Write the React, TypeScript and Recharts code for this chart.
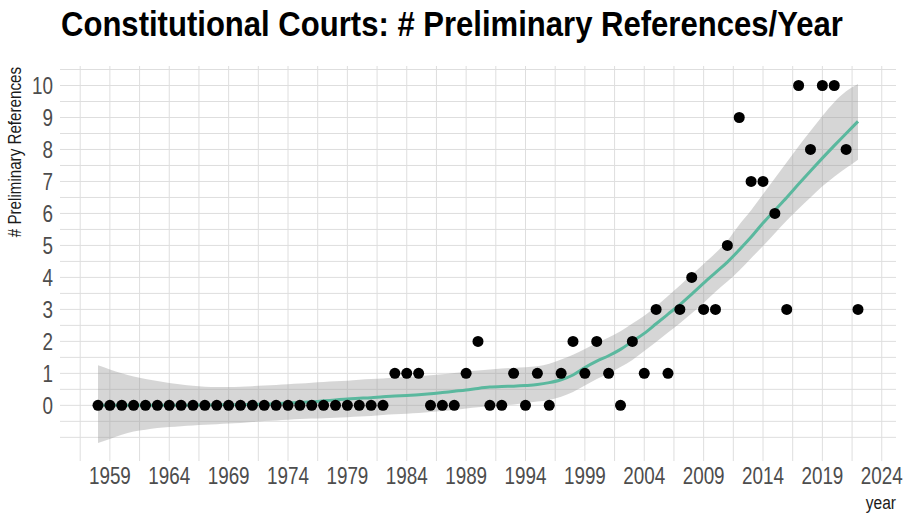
import React from 'react';
import { ComposedChart, Scatter, Area, Line, XAxis, YAxis, CartesianGrid } from 'recharts';

// one row per year
const years = [
  1958, 1959, 1960, 1961, 1962, 1963, 1964, 1965, 1966, 1967, 1968, 1969, 1970,
  1971, 1972, 1973, 1974, 1975, 1976, 1977, 1978, 1979, 1980, 1981, 1982, 1983,
  1984, 1985, 1986, 1987, 1988, 1989, 1990, 1991, 1992, 1993, 1994, 1995, 1996,
  1997, 1998, 1999, 2000, 2001, 2002, 2003, 2004, 2005, 2006, 2007, 2008, 2009,
  2010, 2011, 2012, 2013, 2014, 2015, 2016, 2017, 2018, 2019, 2020, 2021, 2022,
];

const counts = [
  0, 0, 0, 0, 0, 0, 0, 0, 0, 0, 0, 0, 0,
  0, 0, 0, 0, 0, 0, 0, 0, 0, 0, 0, 0, 1,
  1, 1, 0, 0, 0, 1, 2, 0, 0, 1, 0, 1, 0,
  1, 2, 1, 2, 1, 0, 2, 1, 3, 1, 3, 4, 3,
  3, 5, 9, 7, 7, 6, 3, 10, 8, 10, 10, 8, 3,
];

// loess fit + 95% band
const fit = [
  0.0, 0.0, 0.0, 0.0, 0.0, 0.0, 0.0, 0.0, 0.01, 0.01, 0.01, 0.02, 0.02,
  0.03, 0.04, 0.05, 0.07, 0.09, 0.11, 0.14, 0.17, 0.2, 0.22, 0.24, 0.27, 0.29,
  0.31, 0.33, 0.36, 0.4, 0.44, 0.48, 0.53, 0.57, 0.59, 0.6, 0.62, 0.65, 0.71,
  0.8, 0.95, 1.18, 1.38, 1.55, 1.75, 2.0, 2.25, 2.55, 2.85, 3.15, 3.48, 3.82,
  4.15, 4.48, 4.86, 5.26, 5.7, 6.1, 6.5, 6.92, 7.33, 7.73, 8.12, 8.5, 8.88,
];

const lower = [
  -1.18, -1.05, -0.92, -0.82, -0.76, -0.71, -0.68, -0.65, -0.63, -0.61, -0.59, -0.57, -0.55,
  -0.52, -0.49, -0.47, -0.45, -0.43, -0.41, -0.4, -0.39, -0.37, -0.35, -0.33, -0.3, -0.28,
  -0.26, -0.24, -0.21, -0.18, -0.14, -0.1, -0.06, -0.03, 0.0, 0.03, 0.07, 0.12, 0.17,
  0.27, 0.42, 0.62, 0.82, 1.0, 1.2, 1.42, 1.7, 1.98, 2.28, 2.57, 2.88, 3.2,
  3.55, 3.87, 4.22, 4.6, 4.98, 5.38, 5.78, 6.15, 6.5, 6.85, 7.15, 7.42, 7.68,
];

const upper = [
  1.25, 1.12, 1.0, 0.9, 0.82, 0.76, 0.7, 0.65, 0.61, 0.58, 0.57, 0.57, 0.58,
  0.6, 0.62, 0.64, 0.66, 0.68, 0.71, 0.73, 0.75, 0.77, 0.8, 0.82, 0.84, 0.87,
  0.89, 0.91, 0.94, 0.97, 1.01, 1.05, 1.09, 1.12, 1.15, 1.17, 1.19, 1.22, 1.3,
  1.43, 1.58, 1.76, 1.95, 2.12, 2.32, 2.56, 2.8, 3.1, 3.42, 3.75, 4.08, 4.42,
  4.76, 5.15, 5.65, 6.1, 6.6, 7.1, 7.6, 8.1, 8.58, 9.05, 9.48, 9.82, 10.05,
];

const xTicks = [1959, 1964, 1969, 1974, 1979, 1984, 1989, 1994, 1999, 2004, 2009, 2014, 2019, 2024];
const xGrid = [
  1956.5, 1959, 1961.5, 1964, 1966.5, 1969, 1971.5, 1974, 1976.5, 1979, 1981.5, 1984, 1986.5,
  1989, 1991.5, 1994, 1996.5, 1999, 2001.5, 2004, 2006.5, 2009, 2011.5, 2014, 2016.5, 2019,
  2021.5, 2024,
];
const yTicks = [0, 1, 2, 3, 4, 5, 6, 7, 8, 9, 10];
const yGrid = [
  -1, -0.5, 0, 0.5, 1, 1.5, 2, 2.5, 3, 3.5, 4, 4.5, 5, 5.5, 6, 6.5, 7, 7.5, 8, 8.5, 9, 9.5,
  10, 10.5,
];

const data = years.map((year, i) => ({
  year,
  count: counts[i],
  fit: fit[i],
  band: [lower[i], upper[i]],
}));

// no Arial Narrow here, so squeeze Liberation Sans horizontally
const FONT = "'Liberation Sans', Arial, sans-serif";
const SQUEEZE = 0.82;
const GRID = '#dedede';

const Dot = (props: any) => <circle cx={props.cx} cy={props.cy} r={5.5} fill="#000" />;

const XTick = (props: any) => (
  <text
    transform={`translate(${props.x},${props.y}) scale(${SQUEEZE},1)`}
    textAnchor="middle" dy="0.71em" fontFamily={FONT} fontSize={23} fill="#4d4d4d"
  >
    {props.payload.value}
  </text>
);

const YTick = (props: any) => (
  <text
    transform={`translate(${props.x},${props.y}) scale(${SQUEEZE},1)`}
    textAnchor="end" dy="0.355em" fontFamily={FONT} fontSize={23} fill="#4d4d4d"
  >
    {props.payload.value}
  </text>
);

export default function App() {
  return (
    <div style={{ position: 'absolute', left: 0, top: 0, width: 905, height: 517, background: '#fff' }}>
      <ComposedChart width={905} height={517} data={data} margin={{ top: 66, right: 9, bottom: 0, left: 0 }}>
        <CartesianGrid stroke={GRID} strokeWidth={1} horizontalValues={yGrid} verticalValues={xGrid} />
        <XAxis
          dataKey="year" type="number" domain={[1954.8, 2025.2]} ticks={xTicks}
          height={56} axisLine={false} tickLine={false} tickSize={0} tickMargin={7}
          tick={XTick} interval={0}
        />
        <YAxis
          type="number" domain={[-1.74, 10.61]} ticks={yTicks} width={60}
          axisLine={false} tickLine={false} tickSize={0} tickMargin={7}
          tick={YTick} interval={0}
        />
        <Scatter dataKey="count" shape={Dot} isAnimationActive={false} />
        <Area dataKey="band" type="monotone" fill="#999999" fillOpacity={0.4} stroke="none" isAnimationActive={false} />
        <Line dataKey="fit" type="monotone" stroke="#5ab89e" strokeWidth={3} dot={false} isAnimationActive={false} />
      </ComposedChart>
      <svg width={905} height={517} style={{ position: 'absolute', left: 0, top: 0, pointerEvents: 'none' }}>
        <text
          transform="translate(61,36) scale(0.863,1)" fontFamily={FONT} fontWeight="bold"
          fontSize={36} fill="#000"
        >
          Constitutional Courts: # Preliminary References/Year
        </text>
        <text
          transform={`translate(21,67) rotate(-90) scale(${SQUEEZE},1)`} textAnchor="end"
          fontFamily={FONT} fontSize={18.5} fill="#1a1a1a"
        >
          # Preliminary References
        </text>
        <text
          transform={`translate(896,509) scale(${SQUEEZE},1)`} textAnchor="end"
          fontFamily={FONT} fontSize={19} fill="#1a1a1a"
        >
          year
        </text>
      </svg>
    </div>
  );
}
